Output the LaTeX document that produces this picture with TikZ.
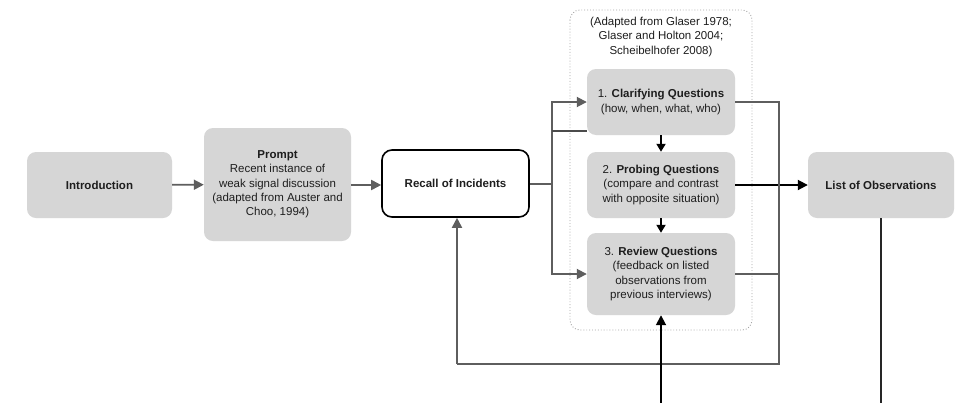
\documentclass[tikz,border=0pt]{standalone}
\usepackage{fontspec}
\setmainfont{Liberation Sans}
\usetikzlibrary{arrows.meta}
\definecolor{boxfill}{HTML}{D6D6D6}
\definecolor{linegray}{HTML}{5E5E5E}
\definecolor{txt}{HTML}{1E1E1E}
\begin{document}
\begin{tikzpicture}[x=1pt,y=-1pt,
  font=\fontsize{11.5}{14.3}\selectfont, text=txt,
  graybox/.style={rectangle, rounded corners=9pt, fill=boxfill, draw=none, align=center, inner sep=0pt},
  whitebox/.style={rectangle, rounded corners=10pt, fill=white, draw=black, line width=1.6pt, align=center},
  grayarrow/.style={draw=linegray, line width=1.8pt, -{Triangle[length=10pt,width=10pt]}},
  grayline/.style={draw=linegray, line width=1.8pt},
  blackarrow/.style={draw=black, line width=1.8pt, -{Triangle[length=10pt,width=10pt]}},
  smallarrow/.style={draw=black, line width=1.8pt, -{Triangle[length=8pt,width=9pt]}},
  blackline/.style={draw=black!85, line width=1.6pt}]
\clip (0,0) rectangle (960,402);
\fill[white] (0,0) rectangle (960,402);

% question group frame
\draw[gray!70, dotted, line width=0.9pt, rounded corners=10pt] (570,10) rectangle (752,330);
\node[align=center] (src) at (661,37) {(Adapted from Glaser 1978;\\Glaser and Holton 2004;\\Scheibelhofer 2008)};

% main boxes
\node[graybox, minimum width=145pt, minimum height=66pt] (intro) at (99.5,185) {\textbf{Introduction}};
\node[graybox, minimum width=147pt, minimum height=113pt] (prompt) at (277.5,184.5)
  {\textbf{Prompt}\\Recent instance of\\weak signal discussion\\(adapted from Auster and\\Choo, 1994)};
\node[whitebox, minimum width=147pt, minimum height=67pt] (recall) at (455.5,183.5) {\textbf{Recall of Incidents}};
\node[graybox, minimum width=148pt, minimum height=66pt] (clar) at (661,102)
  {1. \textbf{Clarifying Questions}\\(how, when, what, who)};
\node[graybox, minimum width=148pt, minimum height=66pt] (probe) at (661,185)
  {2. \textbf{Probing Questions}\\(compare and contrast\\with opposite situation)};
\node[graybox, minimum width=148pt, minimum height=82pt] (review) at (661,274)
  {3. \textbf{Review Questions}\\(feedback on listed\\observations from\\previous interviews)};
\node[graybox, minimum width=146pt, minimum height=66pt] (obs) at (881,185) {\textbf{List of Observations}};

% routing points
\coordinate (trunk) at (552,184);
\coordinate (tTop) at (552,102);
\coordinate (tMid) at (552,131);
\coordinate (tBot) at (552,274);
\coordinate (rTop) at (779,102);
\coordinate (rMid) at (779,274);
\coordinate (rBot) at (779,364);
\coordinate (lBot) at (457,364);
\coordinate (obsEnd) at (881,420);
\coordinate (fbStart) at (661,420);

% forward flow
\draw[grayarrow] (intro) -- (prompt);
\draw[grayarrow] (prompt.east |- intro) -- (recall.west |- intro);
\draw[grayline] (recall.east |- trunk) -- (trunk);
\draw[grayarrow] (tBot) -- (tTop) -- (clar.west |- tTop);
\draw[grayarrow] (tTop) -- (tBot) -- (review.west |- tBot);
\draw[grayline, draw=linegray!80!black] (clar.west |- tMid) -- (tMid);

% question sequence
\draw[smallarrow] (clar) -- (probe);
\draw[smallarrow] (probe) -- (review);
\draw[blackarrow] (probe) -- (obs);

% loop back to recall
\draw[grayline] (clar.east |- rTop) -- (rTop) -- (rBot) -- (lBot);
\draw[grayarrow] (lBot) -- (recall.south -| lBot);
\draw[grayline] (review.east |- rMid) -- (rMid);

% observations feed back to review
\draw[blackline] (obs) -- (obsEnd);
\draw[blackarrow] (fbStart) -- (review);
\end{tikzpicture}
\end{document}
